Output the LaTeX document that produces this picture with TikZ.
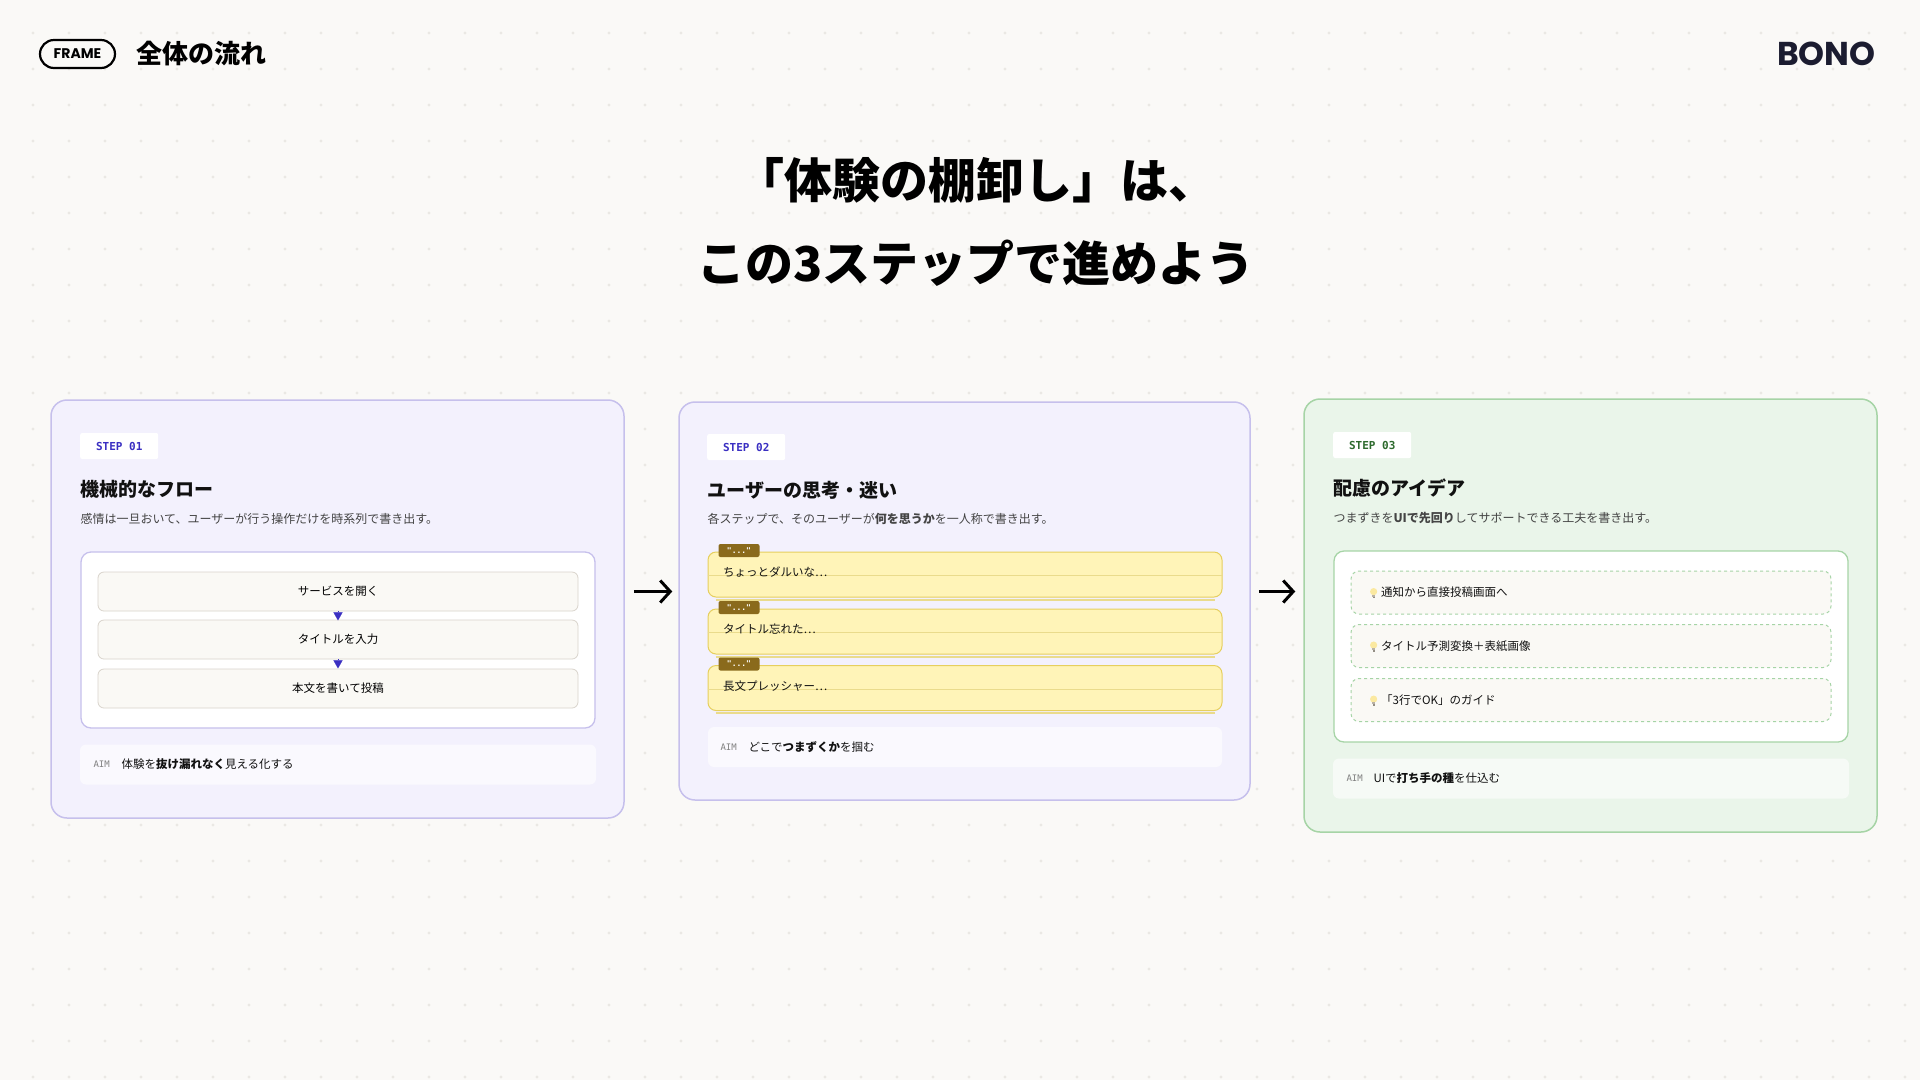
\documentclass[tikz,border=0pt]{standalone}
\usepackage{fontspec}
\setmainfont{Noto Sans CJK JP}
\newfontfamily\monofont{DejaVu Sans Mono}
\newfontfamily\logofont{Poppins}
\usetikzlibrary{arrows.meta, positioning}
\definecolor{paper}{HTML}{FAF9F7}
\definecolor{griddot}{HTML}{EAE8E4}
\definecolor{lavfill}{HTML}{F3F1FD}
\definecolor{lavline}{HTML}{C6C0EC}
\definecolor{mintfill}{HTML}{EAF5EA}
\definecolor{mintline}{HTML}{A6D4A6}
\definecolor{stepblue}{HTML}{3A2FC2}
\definecolor{stepgreen}{HTML}{2D6A2D}
\definecolor{itemfill}{HTML}{FAF9F5}
\definecolor{itemline}{HTML}{D9D4CC}
\definecolor{notefill}{HTML}{FFF4B8}
\definecolor{noteline}{HTML}{E6CF5E}
\definecolor{notemid}{HTML}{EADB8C}
\definecolor{badgebrown}{HTML}{8A6A1C}
\definecolor{bulbyellow}{HTML}{FBE9A0}
\definecolor{bulbbase}{HTML}{B9B2A6}
\definecolor{inkdark}{HTML}{111111}
\definecolor{inkgray}{HTML}{444444}
\definecolor{logonavy}{HTML}{1B1C30}
\newcommand{\fsz}[1]{\fontsize{#1}{#1}\selectfont}
\newcommand{\bulbicon}{\tikz[baseline=-3.5pt, x=1pt, y=1pt]{
    \fill[bulbyellow] (0,1.5) circle (3.6pt);
    \fill[bulbbase] (-1.6,-3.6) rectangle (1.6,-1.8);
    \fill[bulbbase!80!black] (-1,-5) rectangle (1,-3.6);}}

\begin{document}
\begin{tikzpicture}[x=1pt, y=-1pt,
    card/.style={rectangle, draw=#1, line width=1.5pt, rounded corners=16pt, inner sep=0pt},
    tag/.style={rectangle, fill=white, rounded corners=2pt, minimum width=78pt, minimum height=26pt,
                anchor=west, text=#1, font=\monofont\bfseries\fsz{11}},
    heading/.style={anchor=west, text=inkdark, font=\bfseries\fsz{19}},
    lead/.style={anchor=west, text=inkgray, font=\fsz{12}},
    panel/.style={rectangle, draw=#1, fill=white, line width=1.3pt, rounded corners=10pt, minimum width=514pt},
    flowitem/.style={rectangle, draw=itemline, fill=itemfill, line width=0.8pt, rounded corners=6pt,
                     minimum width=480pt, minimum height=39pt, font=\fsz{11.5}},
    note/.style={rectangle, draw=noteline, fill=notefill, line width=1pt, rounded corners=8pt,
                 minimum width=514pt, minimum height=45pt},
    notetext/.style={anchor=west, font=\fsz{11.5}, text=inkdark},
    badge/.style={rectangle, fill=badgebrown, rounded corners=2pt, minimum width=41pt, minimum height=13pt,
                  inner sep=0pt, text=white, font=\monofont\bfseries\fsz{8}},
    idea/.style={rectangle, draw=mintline, fill=itemfill, dashed, line width=1pt, rounded corners=8pt,
                 minimum width=480pt, minimum height=43pt},
    ideatext/.style={anchor=west, font=\fsz{11.5}, text=inkdark},
    aim/.style={rectangle, fill=#1, rounded corners=6pt, minimum width=516pt, minimum height=40pt},
    aimlabel/.style={anchor=west, text=gray, font=\monofont\fsz{9}},
    aimtext/.style={anchor=west, text=inkdark, font=\fsz{11.5}},
    tri/.style={draw=stepblue, line width=0.1pt, -{Triangle[length=8pt, width=9pt]}},
    flow/.style={line width=3pt, -{Straight Barb[length=10pt, width=22pt, line width=3pt]}}
]
    % Background
    \fill[paper] (0,0) rectangle (1920,1080);
    \foreach \i in {0,...,52} {
        \foreach \j in {0,...,29} {
            \fill[griddot] (33+36*\i, 33+36*\j) circle (1.6pt);
        }
    }

    % Header
    \node[rectangle, draw=black, line width=2.2pt, rounded corners=14pt, minimum width=75pt, minimum height=28pt,
          font=\logofont\bfseries\fsz{14}] (framepill) at (77.5,54) {FRAME};
    \node[anchor=west, font=\bfseries\fsz{26}] (pagetitle) at (133,54) {全体の流れ};
    \node[anchor=east, text=logonavy, font=\logofont\bfseries\fsz{33}] (logo) at (1879,54) {BONO};

    % Title
    \node[font=\bfseries\fsz{48}] (title1) at (976,180) {「体験の棚卸し」は、};
    \node[font=\bfseries\fsz{48}] (title2) at (976,263) {この3ステップで進めよう};

    % Step 01
    \node[card=lavline, fill=lavfill, minimum width=573pt, minimum height=418pt] (card1) at (337.5,609) {};
    \node[tag=stepblue] (tag1) at (80,446) {STEP 01};
    \node[heading] (head1) at (77,489) {機械的なフロー};
    \node[lead] (lead1) at (77,519) {感情は一旦おいて、ユーザーが行う操作だけを時系列で書き出す。};
    \node[panel=lavline, minimum height=176pt] (panel1) at (338,640) {};
    \node[flowitem] (s1) at (338,591.5) {サービスを開く};
    \node[flowitem] (s2) at (338,639.5) {タイトルを入力};
    \node[flowitem] (s3) at (338,688.5) {本文を書いて投稿};
    \draw[tri] (s1.south) -- ++(0,9);
    \draw[tri] (s2.south) -- ++(0,9);
    \node[aim=white!60!lavfill] (aim1) at (338,764.5) {};
    \node[aimlabel] (aimlab1) at (90,764.5) {AIM};
    \node[aimtext] (aimtxt1) at (118,764.5) {体験を\textbf{抜け漏れなく}見える化する};

    % Step 02
    \node[card=lavline, fill=lavfill, minimum width=571pt, minimum height=398pt] (card2) at (964.5,601) {};
    \node[tag=stepblue] (tag2) at (707,447) {STEP 02};
    \node[heading] (head2) at (704,490) {ユーザーの思考・迷い};
    \node[lead] (lead2) at (704,519) {各ステップで、そのユーザーが\textbf{何を思うか}を一人称で書き出す。};
    \foreach \n/\y/\txt in {1/574.5/ちょっとダルいな…, 2/631.5/タイトル忘れた…, 3/688/長文プレッシャー…} {
        \node[note] (note\n) at (965,\y) {};
        \draw[notemid, line width=0.8pt] ([yshift=-1pt]note\n.west) -- ([yshift=-1pt]note\n.east);
        \draw[notemid, line width=2pt] ([xshift=8pt, yshift=-2pt]note\n.south west) -- ([xshift=-8pt, yshift=-2pt]note\n.south east);
        \node[badge] (badge\n) at ([xshift=31.5pt, yshift=1pt]note\n.north west) {"..."};
        \node[notetext] (notetxt\n) at ([xshift=12pt, yshift=2pt]note\n.west) {\txt};
    }
    \node[aim=white!60!lavfill, minimum width=514pt] (aim2) at (965,747) {};
    \node[aimlabel] (aimlab2) at (717,747) {AIM};
    \node[aimtext] (aimtxt2) at (745,747) {どこで\textbf{つまずくか}を掴む};

    % Step 03
    \node[card=mintline, fill=mintfill, minimum width=573pt, minimum height=433pt] (card3) at (1590.5,615.5) {};
    \node[tag=stepgreen] (tag3) at (1333,445) {STEP 03};
    \node[heading] (head3) at (1330,488) {配慮のアイデア};
    \node[lead] (lead3) at (1330,518) {つまずきを\textbf{UIで先回り}してサポートできる工夫を書き出す。};
    \node[panel=mintline, minimum height=191pt] (panel3) at (1591,646.5) {};
    \foreach \n/\y/\txt in {1/592.5/通知から直接投稿画面へ, 2/646/タイトル予測変換＋表紙画像, 3/700/「3行でOK」のガイド} {
        \node[idea] (idea\n) at (1591,\y) {};
        \node[ideatext] (ideatxt\n) at ([xshift=16pt]idea\n.west) {\bulbicon\hspace{4pt}\txt};
    }
    \node[aim=white!55!mintfill] (aim3) at (1591,778.5) {};
    \node[aimlabel] (aimlab3) at (1343,778.5) {AIM};
    \node[aimtext] (aimtxt3) at (1370,778.5) {UIで\textbf{打ち手の種}を仕込む};

    % Arrows
    \draw[flow, shorten <=9pt, shorten >=6pt] (card1.east |- s1) -- (card2.west |- s1);
    \draw[flow, shorten <=8pt, shorten >=8pt] (card2.east |- s1) -- (card3.west |- s1);
\end{tikzpicture}
\end{document}
